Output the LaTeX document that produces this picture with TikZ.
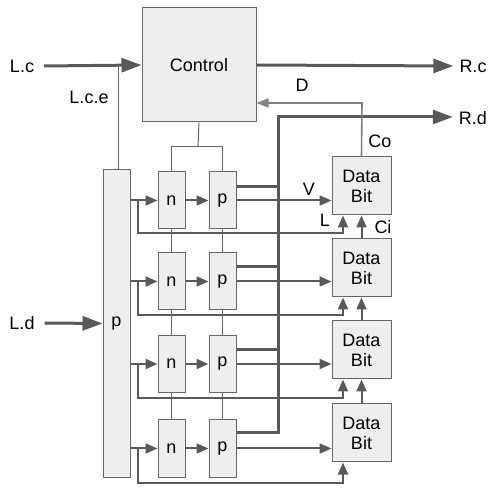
\documentclass[tikz,border=0pt]{standalone}
\usepackage{fontspec}
\setmainfont{Liberation Sans}
\usetikzlibrary{arrows.meta}
\definecolor{boxfill}{HTML}{EEEEEE}
\definecolor{linec}{HTML}{666666}
\definecolor{arrc}{HTML}{595959}
\definecolor{dc}{HTML}{808080}
\begin{document}
\begin{tikzpicture}[x=1pt,y=-1pt,
  box/.style={draw=linec,line width=1pt,fill=boxfill,inner sep=0pt,font=\fontsize{18}{21}\selectfont},
  cell/.style={box,minimum width=27pt,minimum height=57pt},
  dbox/.style={box,minimum width=59pt,minimum height=58pt,align=center},
  lbl/.style={font=\fontsize{18}{21}\selectfont,inner sep=0pt},
  bigarr/.style={draw=arrc,line width=3pt,-{Triangle[length=20pt,width=14pt]}},
  busl/.style={draw=arrc,line width=3pt},
  arr/.style={draw=arrc,line width=2pt,-{Triangle[length=12pt,width=10pt]}},
  thin/.style={draw=linec,line width=1pt},
  darr/.style={draw=dc,line width=1.6pt,-{Triangle[length=12pt,width=9pt]}}]
\useasboundingbox[fill=white] (0,0) rectangle (499,492);

% nodes
\node[box,minimum width=114pt,minimum height=114pt] (ctrl) at (199,65) {Control};
\node[box,minimum width=27pt,minimum height=307pt] (bigp) at (116.5,323.5) {p};
\foreach \i/\y in {1/200.5,2/281.5,3/364,4/448.5}{
  \node[cell] (n\i) at (171.5,\y) {n};
  \node[cell] (p\i) at (222.5,\y) {p};
}
\foreach \i/\y in {1/186,2/268,3/350,4/433}{
  \node[dbox] (db\i) at (361.5,\y) {Data\\[-1pt]Bit};
}

% labels
\node[lbl] (Lc) at (22,66) {L.c};
\node[lbl] (Rc) at (473,66) {R.c};
\node[lbl] (Rd) at (473,118) {R.d};
\node[lbl] (Ld) at (22,323) {L.d};
\node[lbl] (Lce) at (89,97) {L.c.e};
\node[lbl] (D) at (302,85) {D};
\node[lbl] (Co) at (380,141) {Co};
\node[lbl] (V) at (309,189) {V};
\node[lbl] (L) at (325,220) {L};
\node[lbl] (Ci) at (383,227) {Ci};

% coordinates
\coordinate (lce) at (118,66);
\coordinate (split) at (198,147);
\coordinate (bustop) at (278,117);
\coordinate (busbot) at (278,433);
\coordinate (Dc) at (362,103);
\coordinate (s1) at (278,187);
\coordinate (s2) at (278,267);
\coordinate (s3) at (278,350);
\coordinate (s4) at (278,433);
\foreach \i/\y/\ly in {1/200.5/233,2/281.5/315,3/364/398,4/448.5/483}{
  \coordinate (b\i) at (138,\y);
  \coordinate (L\i) at (343,\ly);
}

% top connections
\draw[bigarr] ([xshift=10pt]Lc.east) -- (ctrl.west);
\draw[bigarr] (ctrl.east) -- ([xshift=-6pt]Rc.west);
\draw[thin] (lce) -- (lce |- bigp.north);
\draw[bigarr] ([xshift=10pt]Ld.east) -- (bigp.west);
\draw[thin] (ctrl.south) -- (split);
\draw[thin] (n1.north) -- (n1.north |- split) -- (p1.north |- split) -- (p1.north);
\foreach \i/\j in {1/2,2/3,3/4}{
  \draw[thin] (n\i.south) -- (n\j.north);
  \draw[thin] (p\i.south) -- (p\j.north);
  \draw[arr] (db\j.north) -- (db\i.south);
}

% bus
\foreach \i in {1,2,3}{
  \draw[busl] (s\i -| p\i.east) -- (s\i);
}
\draw[busl,-{Triangle[length=20pt,width=14pt]}] (s4 -| p4.east) -- (busbot) -- (bustop) -- ([xshift=-6pt]Rd.west |- bustop);

% rows
\foreach \i in {1,2,3,4}{
  \draw[arr] (bigp.east |- n\i.west) -- (n\i.west);
  \draw[arr] (n\i.east) -- (p\i.west);
  \draw[arr] (p\i.east) -- (p\i.east -| db\i.west);
  \draw[arr] (b\i) |- (L\i) -- (L\i |- db\i.south);
}

% D feedback
\draw[darr] (db1.north) -- (Dc) -- (Dc -| ctrl.east);
\end{tikzpicture}
\end{document}
